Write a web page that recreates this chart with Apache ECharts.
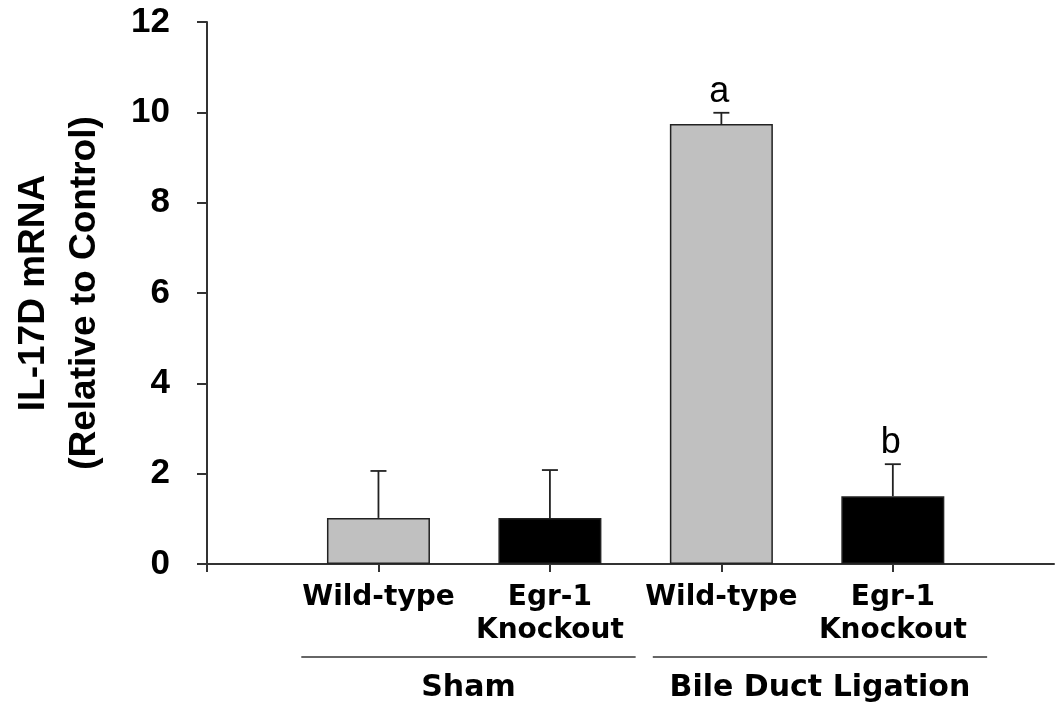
<!DOCTYPE html>
<html><head><meta charset="utf-8">
<script src="https://cdn.jsdelivr.net/npm/echarts@6/dist/echarts.min.js"></script>
<style>html,body{margin:0;padding:0;background:#fff}#c{width:1055px;height:704px}</style>
</head><body><div id="c"></div>
<script>
// ---- data ----
const categories = ['Wild-type', 'Egr-1\nKnockout', 'Wild-type', 'Egr-1\nKnockout'];
const positions = [1, 2, 3, 4];
const genotype = ['wt', 'ko', 'wt', 'ko'];
const means = [1.02, 1.02, 9.74, 1.50];
const errors = [1.04, 1.06, 0.25, 0.71];
const sigLetters = ['', '', 'a', 'b'];
const groupNames = ['Sham', 'Bile Duct Ligation'];
const groupSpans = [[0.55, 2.5], [2.6, 4.55]];
const yMin = 0, yMax = 12, yStep = 2;
const xMin = 0, xMax = 4.94;

// ---- build ----
const wtData = [], koData = [], errData = [];
positions.forEach((p, i) => {
  (genotype[i] === 'wt' ? wtData : koData).push([p, means[i]]);
  errData.push([p, means[i], errors[i], i]);
});

const axisColor = '#333';
const chart = echarts.init(document.getElementById('c'), null, {renderer: 'canvas'});
const option = {
  backgroundColor: '#fff',
  animation: false,
  grid: {left: 204, right: 1, top: 22, bottom: 140, containLabel: false},
  xAxis: {
    type: 'value', min: xMin, max: xMax,
    splitLine: {show: false},
    axisLine: {show: true, lineStyle: {color: axisColor, width: 2}},
    axisTick: {show: true, length: 8, lineStyle: {color: axisColor, width: 2}, customValues: [0].concat(positions)},
    axisLabel: {
      show: true, customValues: positions, margin: 17,
      formatter: v => { const k = positions.indexOf(v); return k >= 0 ? categories[k] : ''; },
      color: '#000', fontFamily: 'DejaVu Sans', fontWeight: 'bold', fontSize: 28, lineHeight: 33, align: 'center'
    }
  },
  yAxis: {
    type: 'value', min: yMin, max: yMax, interval: yStep,
    splitLine: {show: false},
    axisLine: {show: true, lineStyle: {color: axisColor, width: 2}},
    axisTick: {show: true, length: 10, lineStyle: {color: axisColor, width: 2}},
    axisLabel: {margin: 37, color: '#000', fontFamily: 'Liberation Sans', fontWeight: 'bold', fontSize: 35},
    name: 'IL-17D mRNA\n(Relative to Control)',
    nameLocation: 'middle', nameRotate: 90, nameGap: 97,
    nameTextStyle: {color: '#000', fontFamily: 'Liberation Sans', fontWeight: 'bold', fontSize: 37, lineHeight: 51, align: 'center'}
  },
  series: [
    {type: 'bar', name: 'Wild-type', data: wtData, barWidth: 103, barGap: '-100%',
     itemStyle: {color: '#c0c0c0', borderColor: '#222', borderWidth: 1.5}},
    {type: 'bar', name: 'Egr-1 Knockout', data: koData, barWidth: 103, barGap: '-100%',
     itemStyle: {color: '#000', borderColor: '#222', borderWidth: 1.5}},
    {type: 'custom', name: 'SE', data: errData, z: 5,
     encode: {x: 0, y: 1},
     renderItem: function (params, api) {
       const x = api.value(0), m = api.value(1), e = api.value(2), idx = api.value(3);
       const base = api.coord([x, m]);
       const top = api.coord([x, m + e]);
       const st = {stroke: '#222', lineWidth: 1.8};
       const children = [
         {type: 'line', shape: {x1: base[0], y1: base[1], x2: top[0], y2: top[1]}, style: st},
         {type: 'line', shape: {x1: top[0] - 8, y1: top[1], x2: top[0] + 8, y2: top[1]}, style: st}
       ];
       if (sigLetters[idx]) {
         children.push({type: 'text', style: {text: sigLetters[idx], x: top[0] - 2, y: top[1] - 3,
           align: 'center', verticalAlign: 'bottom', fontSize: 36, fontFamily: 'Liberation Sans', fill: '#000'}});
       }
       return {type: 'group', children: children};
     }}
  ]
};
chart.setOption(option);

// group brackets under the category labels
const graphics = [];
groupNames.forEach((g, i) => {
  const a = chart.convertToPixel({xAxisIndex: 0, yAxisIndex: 0}, [groupSpans[i][0], yMin]);
  const b = chart.convertToPixel({xAxisIndex: 0, yAxisIndex: 0}, [groupSpans[i][1], yMin]);
  const ly = a[1] + 93;
  graphics.push({type: 'line', shape: {x1: a[0], y1: ly, x2: b[0], y2: ly}, style: {stroke: '#333', lineWidth: 1.5}});
  graphics.push({type: 'text', x: (a[0] + b[0]) / 2, y: ly + 31,
    style: {text: g, align: 'center', verticalAlign: 'middle', fontSize: 30, fontWeight: 'bold', fontFamily: 'DejaVu Sans', fill: '#000'}});
});
chart.setOption({graphic: graphics});
</script>
</body></html>
